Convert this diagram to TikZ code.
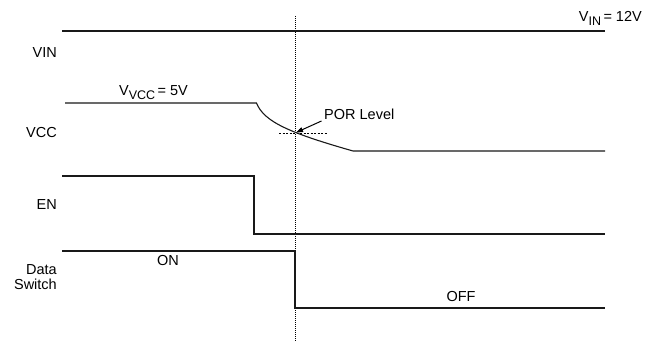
\documentclass[tikz,border=0pt]{standalone}
\usepackage{fontspec}
\setmainfont{Liberation Sans}
\usetikzlibrary{arrows.meta}
\newcommand{\subtxt}[1]{\raisebox{-3.5pt}{\fontsize{12.5}{13}\selectfont #1}}
\begin{document}
\begin{tikzpicture}[x=1pt,y=-1pt,
  lbl/.style={inner sep=0pt,font=\fontsize{14.5}{17}\selectfont},
  wave/.style={line width=1.1pt,black!90},
  vguide/.style={line width=1pt,dash pattern=on 1pt off 1pt},
  porguide/.style={line width=0.9pt,dash pattern=on 2pt off 1.5pt}]
\useasboundingbox (0,0) rectangle (657,342);
% signal labels
\node[lbl,anchor=base east] (lvin) at (57,57.3) {VIN};
\node[lbl,anchor=base east] (lvcc) at (57,137.7) {VCC};
\node[lbl,anchor=base east] (len) at (57,209.3) {EN};
\node[lbl,anchor=base east] (ldata) at (57,274.3) {Data};
\node[lbl,anchor=base east] (lsw) at (57,290) {Switch};
% value labels
\node[lbl,anchor=base east] (vinval) at (642,21.7) {V\subtxt{IN}\,= 12V};
\node[lbl,anchor=base west] (vccval) at (119,95.7) {V\subtxt{VCC}\,= 5V};
\node[lbl,anchor=base] (on) at (168,266) {ON};
\node[lbl,anchor=base] (off) at (461,301.7) {OFF};
\node[lbl,anchor=base west] (por) at (324,120) {POR Level};
% guides
\coordinate (gtop) at (295,16);
\coordinate (gbot) at (295,342);
\draw[vguide] (gtop) -- (gbot);
\coordinate (pl) at (279,133);
\coordinate (pr) at (327,133);
\draw[porguide] (pl) -- (pr);
% VIN
\coordinate (vin0) at (62,31);
\coordinate (vin1) at (605,31);
\draw[wave] (vin0) -- (vin1);
% VCC
\coordinate (vcc0) at (65,103);
\coordinate (vcc1) at (256.5,103);
\coordinate (vcc2) at (353,151);
\coordinate (vcc3) at (605,151);
\draw[wave] (vcc0) -- (vcc1) .. controls (264,122) and (290,133) .. (vcc2) -- (vcc3);
% EN
\coordinate (en0) at (62,176);
\coordinate (en1) at (254,176);
\coordinate (en2) at (254,234);
\coordinate (en3) at (605,234);
\draw[wave] (en0) -- (en1) -- (en2) -- (en3);
% Data switch
\coordinate (ds0) at (62,251);
\coordinate (ds1) at (295,251);
\coordinate (ds2) at (295,308);
\coordinate (ds3) at (605,308);
\draw[wave] (ds0) -- (ds1) -- (ds2) -- (ds3);
% POR arrow
\coordinate (ptip) at (296,132.5);
\draw[line width=1pt,-{Triangle[length=7pt,width=5pt]}] (321.5,121) -- (ptip);
\end{tikzpicture}
\end{document}
